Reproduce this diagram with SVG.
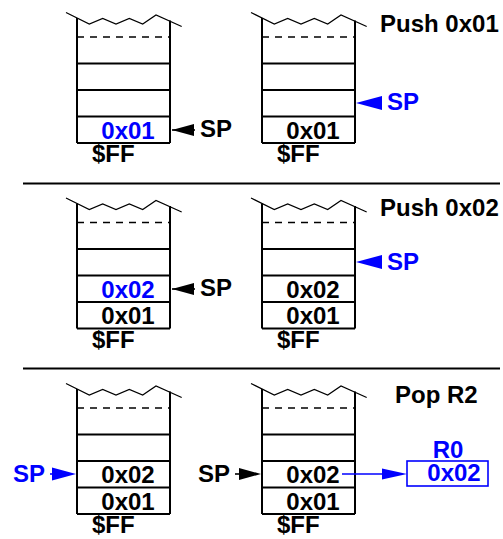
<svg xmlns="http://www.w3.org/2000/svg" xmlns:xlink="http://www.w3.org/1999/xlink" width="503" height="539" viewBox="0 0 503 539">
<style>
text{font-family:"Liberation Sans",Arial,Helvetica,sans-serif;font-weight:bold;font-size:24px;fill:#000}
.b{fill:#0000ff}
.m{text-anchor:middle}
.wall{stroke:#000;stroke-width:2;fill:none}
.row{stroke:#000;stroke-width:1.8;fill:none}
.zig{stroke:#000;stroke-width:1.2;fill:none}
.dash{stroke:#000;stroke-width:1.6;stroke-dasharray:7 6;fill:none}
.sep{stroke:#000;stroke-width:2}
.ab{fill:#0000ff}
.ak{fill:#000}
.lb{stroke:#0000ff;stroke-width:1.6;fill:none}
.lk{stroke:#000;stroke-width:1.6;fill:none}
</style>
<defs>
<g id="stack">
<polyline class="zig" points="66,12.5 89.3,24 102.7,18.5 116,24 129.3,18.5 142.7,24 156,15 181.7,26.5"/>
<path class="wall" d="M77,18V143M170,20.5V143M77,143H170"/>
<path class="dash" d="M77,37H170"/>
<path class="row" d="M77,63.5H170M77,90H170M77,116.5H170"/>
</g>
</defs>
<g id="separators">
<line class="sep" x1="23" y1="183.5" x2="500" y2="183.5"/>
<line class="sep" x1="23" y1="368.5" x2="500" y2="368.5"/>
</g>
<g id="stack-1a">
<use xlink:href="#stack" href="#stack"/>
<text class="b m" x="128" y="138.5">0x01</text>
<text x="92" y="162">$FF</text>
</g>
<g id="stack-1b">
<use xlink:href="#stack" href="#stack" transform="translate(185,0)"/>
<text class="m" x="313" y="138.5">0x01</text>
<text x="277" y="162">$FF</text>
</g>
<g id="title-1"><text x="380" y="32">Push 0x01</text></g>
<g id="sp-1a"><text x="200" y="137">SP</text></g>
<g id="sp-1b"><text class="b" x="387" y="110">SP</text></g>
<g id="stack-2a">
<use xlink:href="#stack" href="#stack" transform="translate(0,185.5)"/>
<text class="b m" x="128" y="297.5">0x02</text>
<text class="m" x="128" y="324">0x01</text>
<text x="92" y="347.5">$FF</text>
</g>
<g id="stack-2b">
<use xlink:href="#stack" href="#stack" transform="translate(185,185.5)"/>
<text class="m" x="313" y="297.5">0x02</text>
<text class="m" x="313" y="324">0x01</text>
<text x="277" y="347.5">$FF</text>
</g>
<g id="title-2"><text x="380" y="216">Push 0x02</text></g>
<g id="sp-2a"><text x="200" y="296">SP</text></g>
<g id="sp-2b"><text class="b" x="387" y="270">SP</text></g>
<g id="stack-3a">
<use xlink:href="#stack" href="#stack" transform="translate(0,371)"/>
<text class="m" x="128" y="483">0x02</text>
<text class="m" x="128" y="509.5">0x01</text>
<text x="92" y="533">$FF</text>
</g>
<g id="stack-3b">
<use xlink:href="#stack" href="#stack" transform="translate(185,371)"/>
<text class="m" x="313" y="483">0x02</text>
<text class="m" x="313" y="509.5">0x01</text>
<text x="277" y="533">$FF</text>
</g>
<g id="title-3"><text x="395" y="403">Pop R2</text></g>
<g id="sp-3a"><text class="b" x="13" y="482">SP</text></g>
<g id="sp-3b"><text x="198" y="482">SP</text></g>
<g id="r0">
<rect x="407" y="461" width="81" height="25" fill="none" stroke="#0000ff" stroke-width="1.6"/>
<text class="b m" x="448" y="458">R0</text>
<text class="b m" x="454" y="481">0x02</text>
</g>
<g id="connectors">
<line class="lk" x1="172" y1="130" x2="195" y2="130"/>
<polygon class="ak" points="172,130 194,124 194,136"/>
<polygon class="ab" points="356,103 382,96 382,110"/>
<line class="lk" x1="172" y1="289" x2="195" y2="289"/>
<polygon class="ak" points="172,289 194,283 194,295"/>
<polygon class="ab" points="356,262 382,255 382,269"/>
<line class="lb" x1="50" y1="474" x2="56" y2="474"/>
<polygon class="ab" points="76,474 52,467.5 52,480.5"/>
<line class="lk" x1="235" y1="474" x2="242" y2="474"/>
<polygon class="ak" points="261,474 239,468 239,480"/>
<line class="lb" x1="342" y1="474" x2="385" y2="474"/>
<polygon class="ab" points="407,474 382,468.5 382,479.5"/>
</g>
</svg>
